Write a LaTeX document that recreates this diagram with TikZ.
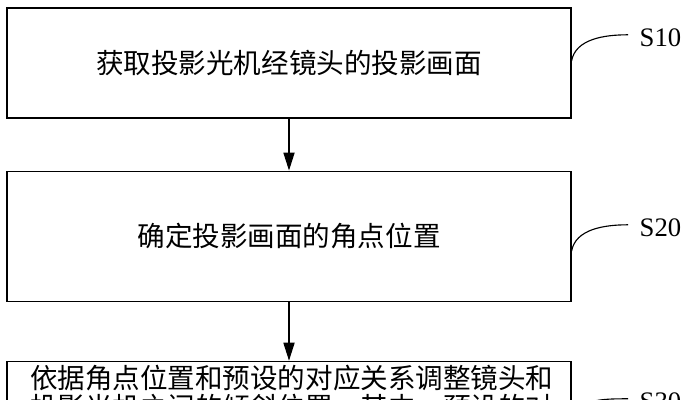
\documentclass[tikz,border=0pt]{standalone}
\usepackage{fontspec}
\setmainfont{Liberation Serif}
\newfontfamily\cjk{Noto Sans CJK SC}
\usetikzlibrary{arrows.meta,positioning}
\tikzset{
  stepbox/.style={draw,line width=0.8pt,minimum width=14.1cm,align=center,
    font=\cjk\fontsize{19.6}{21}\selectfont},
  arrow/.style={-{Triangle[length=0.45cm,width=0.28cm]},line width=0.8pt},
  steplabel/.style={anchor=west,inner sep=1pt,font=\fontsize{19}{22}\selectfont},
  tag/.style={line width=0.8pt}
}

\begin{document}
\begin{tikzpicture}
      \useasboundingbox (0,0) rectangle (17.3,10);
      \clip (0,0) rectangle (17.3,10);
      \node[stepbox,minimum height=2.75cm] (b1) at (7.225,8.425) {获取投影光机经镜头的投影画面};
      \node[stepbox,minimum height=3.25cm,below=1.3cm of b1] (b2) {确定投影画面的角点位置};
      \node[stepbox,below=1.475cm of b2,text width=12.95cm,
        align=left,anchor=north,inner xsep=0.575cm,inner ysep=2.5pt,text depth=2cm] (b3)
        {依据角点位置和预设的对应关系调整镜头和\\投影光机之间的倾斜位置，其中，预设的对};
      \draw[arrow] (b1) -- (b2);
      \draw[arrow] (b2) -- (b3);
      % step labels
      \node[steplabel] (l1) at (15.95,9.05) {S10};
      \node[steplabel] (l2) at (15.95,4.3) {S20};
      \node[steplabel] (l3) at (15.95,-0.05) {S30};
      \draw[tag] ([yshift=0.05cm]b1.east) .. controls +(0.1,0.55) and +(-0.6,0) .. ([xshift=-0.25cm,yshift=0.08cm]l1.west);
      \draw[tag] ([yshift=-0.375cm]b2.east) .. controls +(0.1,0.55) and +(-0.6,0) .. ([xshift=-0.25cm,yshift=0.08cm]l2.west);
      \draw[tag] ([yshift=-1.5cm]b3.north east) .. controls +(0.1,0.55) and +(-0.6,0) .. ([xshift=-0.25cm,yshift=0.08cm]l3.west);
\end{tikzpicture}
\end{document}
